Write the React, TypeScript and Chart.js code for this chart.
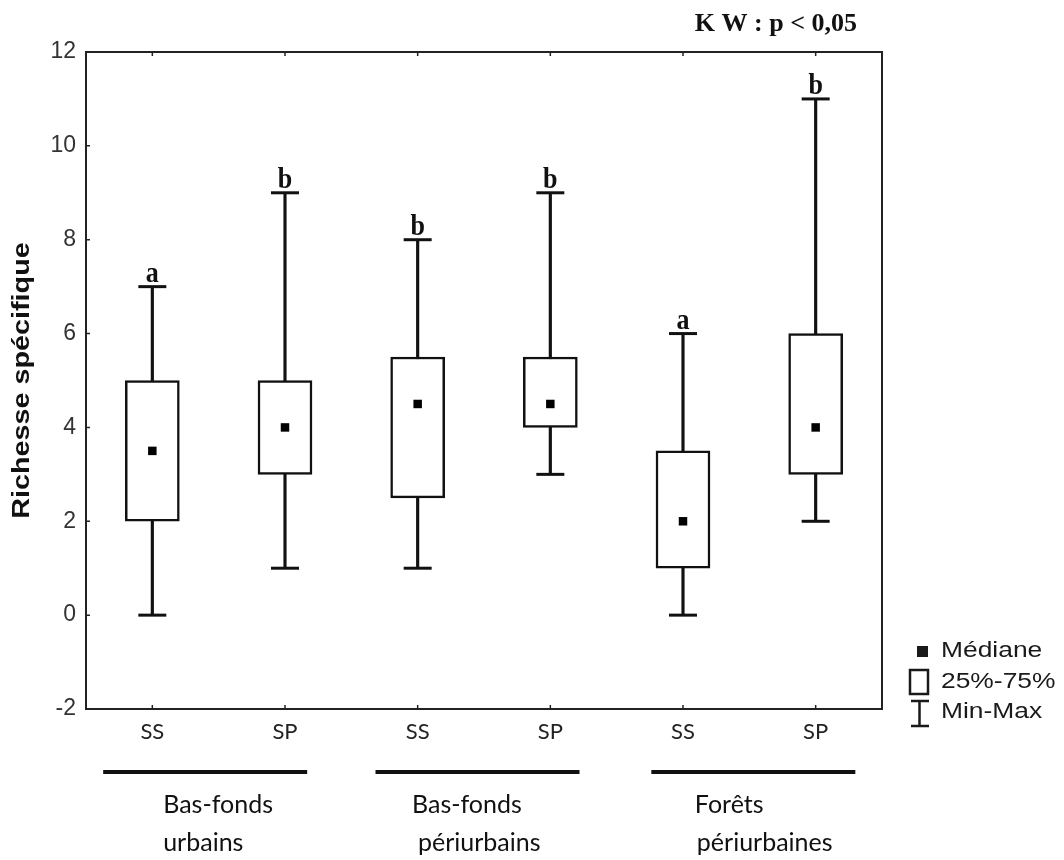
import React, { useEffect, useRef } from "react";
import { Chart, registerables } from "chart.js";

Chart.register(...registerables);

// ---- data ----
const categories = ["SS", "SP", "SS", "SP", "SS", "SP"];
const minValues = [0, 1, 1, 3, 0, 2];
const q1Values = [2, 3, 2.5, 4, 1, 3];
const medianValues = [3.5, 4, 4.5, 4.5, 2, 4];
const q3Values = [5, 5, 5.5, 5.5, 3.5, 6];
const maxValues = [7, 9, 8, 9, 6, 11];
const letters = ["a", "b", "b", "b", "a", "b"];
const groupLine1 = ["Bas-fonds", "Bas-fonds", "Forêts"];
const groupLine2 = ["urbains", "périurbains", "périurbaines"];
const legendLabels = ["Médiane", "25%-75%", "Min-Max"];
const testLabel = "K W : p < 0,05";
const yTitle = "Richesse spécifique";
const yMin = -2;
const yMax = 12;
const yStep = 2;

// ---- layout constants (pixels) ----
const groupLineOffset = [-13.5, -6.5, 4];
const groupLabelOffset = [-55.5, -72, -54.5];
const groupLabel2Shift = [0, 6, 2];

const INK = "#111";

const decorations = {
  id: "decorations",
  afterDraw(chart: any) {
    const { ctx, chartArea } = chart;
    const xs = chart.scales.x;
    const ys = chart.scales.y;
    const { left, right, top, bottom } = chartArea;
    ctx.save();
    // frame
    ctx.strokeStyle = "#222";
    ctx.lineWidth = 2;
    ctx.strokeRect(left, top, right - left, bottom - top);
    // ticks
    ctx.lineWidth = 1.5;
    ctx.beginPath();
    for (let v = yMin; v <= yMax; v += yStep) {
      const y = ys.getPixelForValue(v);
      ctx.moveTo(left, y);
      ctx.lineTo(left + 4, y);
    }
    categories.forEach((_, i) => {
      const x = xs.getPixelForValue(i);
      ctx.moveTo(x, bottom);
      ctx.lineTo(x, bottom - 4);
      ctx.moveTo(x, top);
      ctx.lineTo(x, top + 4);
    });
    ctx.stroke();

    // y title (stretched along its direction like the original)
    ctx.save();
    ctx.fillStyle = INK;
    ctx.font = 'bold 23px "Liberation Sans", Arial, sans-serif';
    ctx.textAlign = "center";
    ctx.textBaseline = "middle";
    ctx.translate(23, (top + bottom) / 2);
    ctx.rotate(-Math.PI / 2);
    ctx.scale(1.25, 1);
    ctx.fillText(yTitle, 0, 0);
    ctx.restore();

    // significance letters
    ctx.fillStyle = INK;
    ctx.font = 'bold 26px "Liberation Serif", serif';
    ctx.textAlign = "center";
    ctx.textBaseline = "alphabetic";
    letters.forEach((l, i) => {
      const x = xs.getPixelForValue(i);
      const y = ys.getPixelForValue(maxValues[i]);
      ctx.save();
      ctx.translate(x, y - 5);
      ctx.scale(1, 1.15);
      ctx.fillText(l, 0, 0);
      ctx.restore();
    });

    // test label
    ctx.font = 'bold 26px "Liberation Serif", serif';
    ctx.textAlign = "right";
    ctx.fillText(testLabel, right - 25, 31);

    // group lines and labels
    for (let g = 0; g < groupLine1.length; g++) {
      const cx = (xs.getPixelForValue(2 * g) + xs.getPixelForValue(2 * g + 1)) / 2;
      const lc = cx + groupLineOffset[g];
      ctx.strokeStyle = INK;
      ctx.lineWidth = 4;
      ctx.beginPath();
      ctx.moveTo(lc - 102, bottom + 63);
      ctx.lineTo(lc + 102, bottom + 63);
      ctx.stroke();
      ctx.font = '25px Lato, "Open Sans", sans-serif';
      ctx.textAlign = "left";
      ctx.textBaseline = "middle";
      const lx = cx + groupLabelOffset[g];
      ctx.fillText(groupLine1[g], lx, bottom + 96);
      ctx.fillText(groupLine2[g], lx + groupLabel2Shift[g], bottom + 134);
    }

    // legend
    const rowY = [bottom - 58, bottom - 27, bottom + 3];
    const textX = right + 59;
    ctx.fillStyle = "#1a1a1a";
    ctx.strokeStyle = "#1a1a1a";
    // median square
    ctx.fillRect(right + 35, rowY[0] - 5, 11, 11);
    // box
    ctx.lineWidth = 2.5;
    ctx.strokeRect(right + 28, rowY[1] - 12, 18, 24);
    // whisker
    ctx.beginPath();
    ctx.moveTo(right + 37.5, rowY[2] - 11);
    ctx.lineTo(right + 37.5, rowY[2] + 14);
    ctx.moveTo(right + 29, rowY[2] - 11);
    ctx.lineTo(right + 47, rowY[2] - 11);
    ctx.moveTo(right + 29, rowY[2] + 14);
    ctx.lineTo(right + 47, rowY[2] + 14);
    ctx.stroke();
    ctx.font = '22px "Liberation Sans", Arial, sans-serif';
    ctx.textAlign = "left";
    ctx.textBaseline = "middle";
    legendLabels.forEach((t, i) => {
      ctx.save();
      ctx.translate(textX, rowY[i]);
      ctx.scale(1.2, 1);
      ctx.fillText(t, 0, 0);
      ctx.restore();
    });
    ctx.restore();
  },
};

export default function App() {
  const ref = useRef<HTMLCanvasElement>(null);
  useEffect(() => {
    if (!ref.current) return;
    const chart = new Chart(ref.current, {
      type: "bar",
      data: {
        labels: categories,
        datasets: [
          {
            type: "bar",
            label: "Min-Max",
            data: minValues.map((m, i) => [m, maxValues[i]]),
            backgroundColor: INK,
            borderWidth: 0,
            barThickness: 2.5,
            grouped: false,
            order: 4,
          } as any,
          {
            type: "bar",
            label: "25%-75%",
            data: q1Values.map((q, i) => [q, q3Values[i]]),
            backgroundColor: "#fff",
            borderColor: INK,
            borderWidth: 2.5,
            borderSkipped: false,
            barThickness: 54,
            grouped: false,
            order: 3,
          } as any,
          {
            type: "line",
            label: "max",
            data: maxValues,
            showLine: false,
            pointStyle: "line",
            pointRadius: 14,
            pointBorderWidth: 3,
            pointBorderColor: INK,
            borderColor: INK,
            order: 2,
          } as any,
          {
            type: "line",
            label: "min",
            data: minValues,
            showLine: false,
            pointStyle: "line",
            pointRadius: 14,
            pointBorderWidth: 3,
            pointBorderColor: INK,
            borderColor: INK,
            order: 2,
          } as any,
          {
            type: "line",
            label: "Médiane",
            data: medianValues,
            showLine: false,
            pointStyle: "rect",
            pointRadius: 6,
            pointBackgroundColor: "#000",
            pointBorderWidth: 0,
            order: 1,
          } as any,
        ],
      },
      options: {
        responsive: false,
        animation: false,
        layout: { padding: { top: 52, right: 182, left: 0, bottom: 0 } },
        plugins: { legend: { display: false }, tooltip: { enabled: false } },
        scales: {
          x: {
            type: "category",
            offset: true,
            grid: { display: false, drawTicks: false },
            border: { display: false },
            ticks: {
              padding: 10,
              color: "#222",
              font: { family: 'Lato, "Open Sans", sans-serif', size: 22 },
            },
            afterFit: (s: any) => {
              s.height = 151;
            },
          },
          y: {
            min: yMin,
            max: yMax,
            grid: { display: false, drawTicks: false },
            border: { display: false },
            ticks: {
              stepSize: yStep,
              padding: 10,
              color: "#333",
              font: { family: '"Liberation Sans", Arial, sans-serif', size: 23 },
            },
            afterFit: (s: any) => {
              s.width = 86;
            },
          },
        },
      },
      plugins: [decorations],
    } as any);
    return () => chart.destroy();
  }, []);
  return (
    <div style={{ position: "fixed", left: 0, top: 0, width: 1064, height: 860, background: "#fff" }}>
      <canvas ref={ref} width={1064} height={860} />
    </div>
  );
}
